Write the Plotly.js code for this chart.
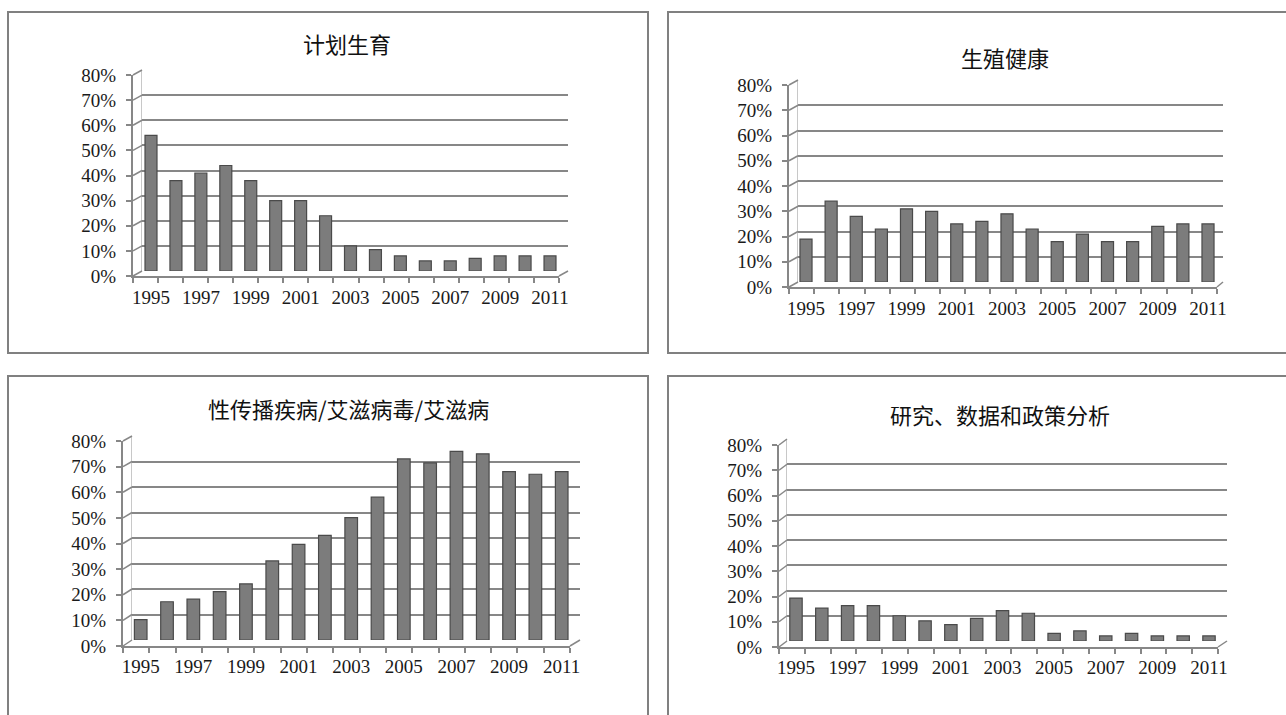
<!DOCTYPE html>
<html>
<head>
<meta charset="utf-8">
<script src="https://cdn.plot.ly/plotly-3.0.1.min.js"></script>
<style>html,body{margin:0;padding:0;background:#fff;}#chart{width:1286px;height:715px;}</style>
</head>
<body>
<div id="chart"></div>
<script>
// ---------- data ----------
const years = [1995,1996,1997,1998,1999,2000,2001,2002,2003,2004,2005,2006,2007,2008,2009,2010,2011];
const tickYears = [1995,1997,1999,2001,2003,2005,2007,2009,2011];
const titles = ["计划生育","生殖健康","性传播疾病/艾滋病毒/艾滋病","研究、数据和政策分析"];
const familyPlanning = [0.54,0.36,0.39,0.42,0.36,0.28,0.28,0.22,0.10,0.085,0.06,0.04,0.04,0.05,0.06,0.06,0.06];
const reproductiveHealth = [0.17,0.32,0.26,0.21,0.29,0.28,0.23,0.24,0.27,0.21,0.16,0.19,0.16,0.16,0.22,0.23,0.23];
const stiHivAids = [0.08,0.15,0.16,0.19,0.22,0.31,0.375,0.41,0.48,0.56,0.71,0.695,0.74,0.73,0.66,0.65,0.66];
const researchPolicy = [0.17,0.13,0.14,0.14,0.10,0.08,0.065,0.09,0.12,0.11,0.03,0.04,0.02,0.03,0.02,0.02,0.02];
const yTicks = [0,0.1,0.2,0.3,0.4,0.5,0.6,0.7,0.8];

// ---------- layout geometry (pixels) ----------
const W = 1286, H = 715;
const panels = [
  {series: familyPlanning, fx0:133, fx1:559, fy0:276, fy8:75, bx0:142, bx1:568, by0:271, by8:70, c0:151, c1:550, tx:347, ty:43, box:[8,12,648,353]},
  {series: reproductiveHealth, fx0:789, fx1:1217, fy0:287, fy8:85, bx0:798, bx1:1223, by0:282, by8:80, c0:806, c1:1208, tx:1005, ty:57, box:[668,12,1290,353]},
  {series: stiHivAids, fx0:123, fx1:570, fy0:646, fy8:441, bx0:132, bx1:580, by0:640, by8:436, c0:140.7, c1:561.7, tx:348, ty:408, box:[8,376,648,720]},
  {series: researchPolicy, fx0:779, fx1:1218, fy0:647, fy8:445, bx0:787, bx1:1227, by0:641, by8:439, c0:796, c1:1209, tx:1000, ty:414, box:[668,376,1290,720]}
];
const px = x => x / W;
const py = y => 1 - y / H;

const gridColor = '#878787';
const tickFont = {family: 'Liberation Serif, Times New Roman, serif', size: 19, color: '#1a1a1a'};

const data = [];
const layout = {
  width: W, height: H,
  margin: {l:0, r:0, t:0, b:0},
  paper_bgcolor: '#ffffff', plot_bgcolor: 'rgba(0,0,0,0)',
  showlegend: false, bargap: 0,
  shapes: [], annotations: []
};

panels.forEach((p, i) => {
  const n = i + 1, m = i + 5;
  const unit = (p.c1 - p.c0) / (years[years.length-1] - years[0]);
  const xr = [years[0] - (p.c0 - p.bx0) / unit, years[years.length-1] + (p.bx1 - p.c1) / unit];

  // bars on back-wall axes
  data.push({
    type: 'bar', x: years, y: p.series,
    xaxis: 'x' + n, yaxis: 'y' + n,
    width: 0.48,
    marker: {color: '#7c7c7c', line: {color: '#4a4a4a', width: 1.2}},
    hoverinfo: 'x+y'
  });
  // front frame axes (empty)
  data.push({type: 'scatter', x: [], y: [], xaxis: 'x' + m, yaxis: 'y' + m, hoverinfo: 'skip'});

  layout['xaxis' + n] = {
    domain: [px(p.bx0), px(p.bx1)], range: xr, anchor: 'y' + n,
    showgrid: false, zeroline: false, showline: false,
    tickmode: 'array', tickvals: tickYears, ticktext: tickYears.map(String),
    ticks: '', tickfont: tickFont, ticklabelstandoff: 13, fixedrange: true
  };
  layout['yaxis' + n] = {
    domain: [py(p.by0), py(p.by8)], range: [0, 0.8], anchor: 'x' + n,
    showgrid: true, gridcolor: gridColor, gridwidth: 2,
    tickmode: 'array', tickvals: yTicks,
    zeroline: false, showticklabels: false, ticks: '',
    showline: true, linecolor: '#c8c8c8', linewidth: 1, fixedrange: true
  };
  layout['xaxis' + m] = {
    domain: [px(p.fx0), px(p.fx1)], range: [years[0] - 0.5, years[years.length-1] + 0.5], anchor: 'y' + m,
    showgrid: false, zeroline: false, showline: true, linecolor: gridColor, linewidth: 2,
    tickmode: 'array', tickvals: years.map(y => y - 0.5).concat([years[years.length-1] + 0.5]),
    ticks: 'outside', ticklen: 5, tickwidth: 2, tickcolor: gridColor,
    showticklabels: false, fixedrange: true
  };
  layout['yaxis' + m] = {
    domain: [py(p.fy0), py(p.fy8)], range: [0, 0.8], anchor: 'x' + m,
    showgrid: false, zeroline: false, showline: true, linecolor: gridColor, linewidth: 2,
    tickmode: 'array', tickvals: yTicks, tickformat: '.0%',
    ticks: 'outside', ticklen: 5, tickwidth: 2, tickcolor: gridColor,
    tickfont: tickFont, ticklabelstandoff: 6, fixedrange: true
  };

  // slanted connectors from the front axis to the back wall
  yTicks.forEach(v => {
    const fy = p.fy0 + (p.fy8 - p.fy0) * v / 0.8;
    const by = p.by0 + (p.by8 - p.by0) * v / 0.8;
    layout.shapes.push({type: 'line', xref: 'paper', yref: 'paper',
      x0: px(p.fx0), y0: py(fy), x1: px(p.bx0), y1: py(by),
      line: {color: gridColor, width: 1.5}});
  });
  layout.shapes.push({type: 'line', xref: 'paper', yref: 'paper',
    x0: px(p.fx1), y0: py(p.fy0), x1: px(p.bx1), y1: py(p.by0),
    line: {color: gridColor, width: 1.5}});

  // panel border
  layout.shapes.push({type: 'rect', xref: 'paper', yref: 'paper',
    x0: px(p.box[0]), y0: py(p.box[1]), x1: px(p.box[2]), y1: py(p.box[3]),
    line: {color: '#808080', width: 2}, fillcolor: 'rgba(0,0,0,0)', layer: 'below'});

  // title
  layout.annotations.push({
    text: titles[i], xref: 'paper', yref: 'paper', showarrow: false,
    x: px(p.tx), y: py(p.ty), xanchor: 'center', yanchor: 'middle',
    font: {family: 'Noto Sans CJK SC, sans-serif', size: 22, color: '#111111'}
  });
});

Plotly.newPlot('chart', data, layout, {displayModeBar: false, staticPlot: true});
</script>
</body>
</html>
